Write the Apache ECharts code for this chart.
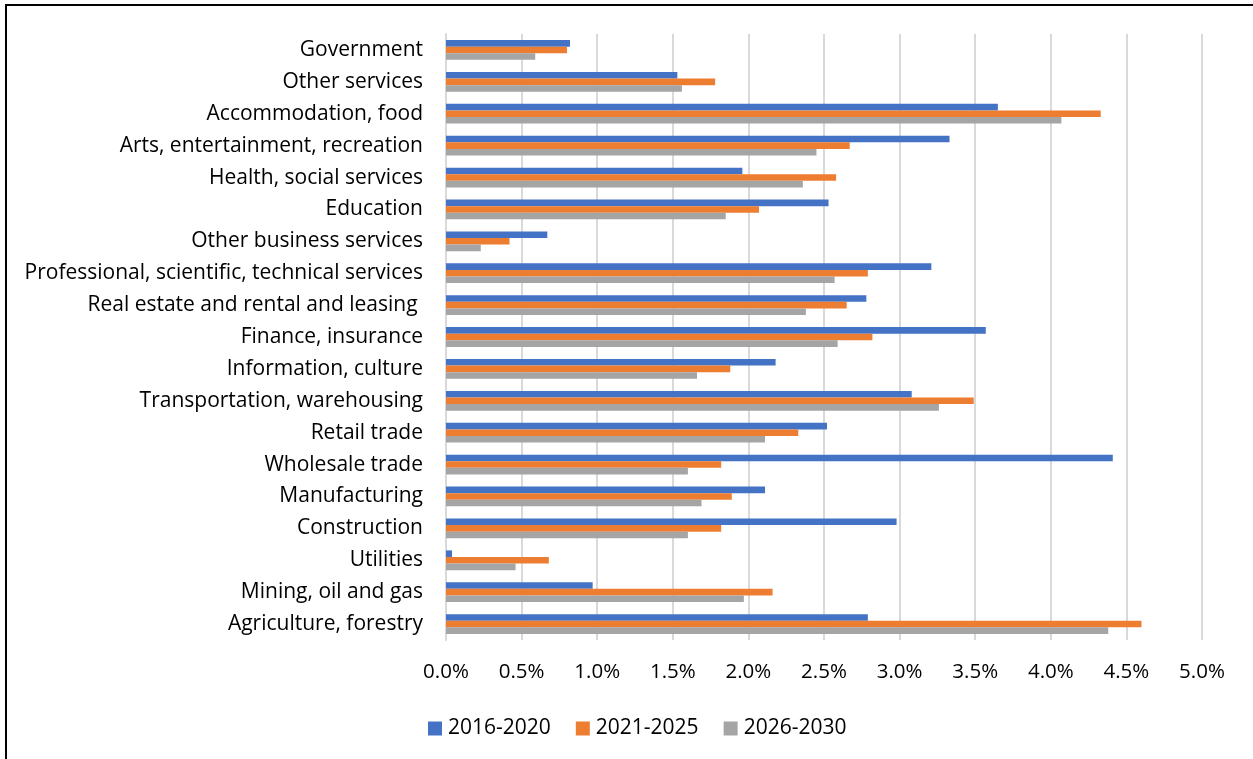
<!DOCTYPE html>
<html>
<head>
<meta charset="utf-8">
<style>
  html, body { margin: 0; padding: 0; background: #ffffff; }
  #chart { width: 1253px; height: 759px; }
</style>
<script src="https://cdn.jsdelivr.net/npm/echarts@6/dist/echarts.min.js"></script>
</head>
<body>
<div id="chart"></div>
<script>
// Industries, listed top to bottom
const industries = [
  'Government',
  'Other services',
  'Accommodation, food',
  'Arts, entertainment, recreation',
  'Health, social services',
  'Education',
  'Other business services',
  'Professional, scientific, technical services',
  'Real estate and rental and leasing ',
  'Finance, insurance',
  'Information, culture',
  'Transportation, warehousing',
  'Retail trade',
  'Wholesale trade',
  'Manufacturing',
  'Construction',
  'Utilities',
  'Mining, oil and gas',
  'Agriculture, forestry'
];

const periods = ['2016-2020', '2021-2025', '2026-2030'];

// Average annual growth, percent
const growth2016 = [0.82, 1.53, 3.65, 3.33, 1.96, 2.53, 0.67, 3.21, 2.78, 3.57, 2.18, 3.08, 2.52, 4.41, 2.11, 2.98, 0.04, 0.97, 2.79];
const growth2021 = [0.80, 1.78, 4.33, 2.67, 2.58, 2.07, 0.42, 2.79, 2.65, 2.82, 1.88, 3.49, 2.33, 1.82, 1.89, 1.82, 0.68, 2.16, 4.60];
const growth2026 = [0.59, 1.56, 4.07, 2.45, 2.36, 1.85, 0.23, 2.57, 2.38, 2.59, 1.66, 3.26, 2.11, 1.60, 1.69, 1.60, 0.46, 1.97, 4.38];

const xTicks = [0, 0.5, 1, 1.5, 2, 2.5, 3, 3.5, 4, 4.5, 5];

const colors = ['#4472C4', '#ED7D31', '#A5A5A5'];
const fontFamily = '"Open Sans", "Noto Sans", sans-serif';

const chart = echarts.init(document.getElementById('chart'));

const seriesData = [growth2016, growth2021, growth2026];

chart.setOption({
  animation: false,
  color: colors,
  grid: { left: 446, right: 51, top: 34, bottom: 119, containLabel: false },
  xAxis: {
    type: 'value',
    min: xTicks[0],
    max: xTicks[xTicks.length - 1],
    interval: xTicks[1] - xTicks[0],
    axisLine: { show: false },
    axisTick: { show: false },
    splitLine: { show: true, lineStyle: { color: '#d9d9d9', width: 2 } },
    axisLabel: {
      margin: 22,
      color: '#000000',
      fontSize: 20.5,
      fontFamily: fontFamily,
      formatter: v => v.toFixed(1) + '%'
    }
  },
  yAxis: {
    type: 'category',
    inverse: true,
    data: industries,
    axisLine: { show: true, lineStyle: { color: '#d9d9d9', width: 2 } },
    axisTick: { show: false },
    axisLabel: {
      margin: 23,
      color: '#000000',
      fontSize: 21,
      fontFamily: fontFamily,
      padding: [7, 0, 0, 0]
    }
  },
  legend: {
    left: 423,
    top: 713,
    itemWidth: 14,
    itemHeight: 14,
    itemGap: 25,
    icon: 'rect',
    textStyle: { color: '#000000', fontSize: 21, fontFamily: fontFamily, padding: [0, 0, 0, 1] },
    data: periods
  },
  series: periods.map((name, i) => ({
    name: name,
    type: 'bar',
    data: seriesData[i],
    barGap: '0%',
    barCategoryGap: '38%',
    itemStyle: { color: colors[i] }
  })),
  graphic: [{
    type: 'polyline',
    shape: { points: [[6, 759], [6, 5], [1253, 5]] },
    style: { stroke: '#000000', lineWidth: 2, fill: null }
  }]
});
</script>
</body>
</html>
